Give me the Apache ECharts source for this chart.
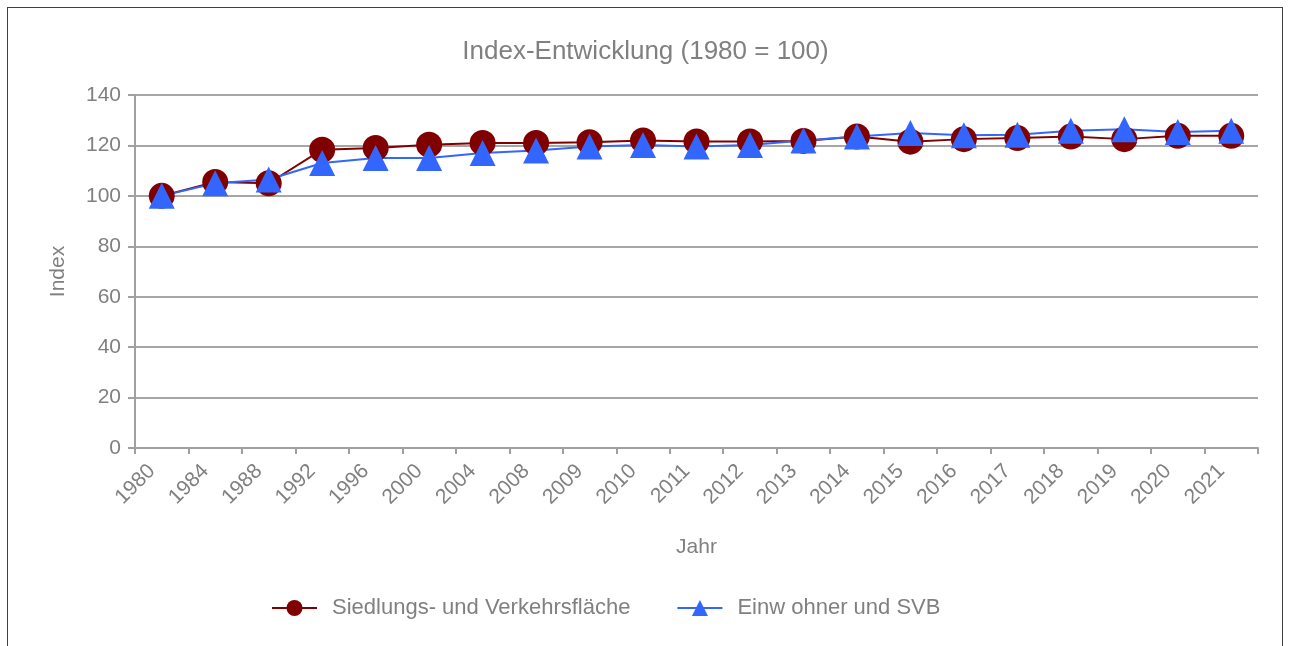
<!DOCTYPE html>
<html>
<head>
<meta charset="utf-8">
<title>Index-Entwicklung</title>
<script src="https://cdn.jsdelivr.net/npm/echarts@6/dist/echarts.min.js"></script>
<style>
  html, body { margin: 0; padding: 0; background: #fff; }
  #frame {
    position: absolute; left: 7px; top: 7px;
    width: 1276px; height: 660px;
    border: 1px solid #404040; box-sizing: border-box;
  }
  #chart { position: absolute; left: 0; top: 0; width: 1291px; height: 646px; }
</style>
</head>
<body>
<div id="frame"></div>
<div id="chart"></div>
<script>
// Jahre (Kategorien)
var years = ['1980', '1984', '1988', '1992', '1996', '2000', '2004', '2008', '2009', '2010', '2011',
  '2012', '2013', '2014', '2015', '2016', '2017', '2018', '2019', '2020', '2021'];
// Siedlungs- und Verkehrsfläche
var flaeche = [100, 105.5, 105, 118.3, 119, 120.3, 121, 121, 121.3, 122, 121.6,
  121.6, 121.8, 123.5, 121.5, 122.5, 122.9, 123.5, 122.5, 123.8, 123.8];
// Einwohner und SVB
var einwohner = [100, 105, 106.5, 113, 115, 115, 117, 118, 119.6, 120.2, 119.6,
  120.2, 122, 123.5, 124.9, 124, 124.2, 125.8, 126.4, 125.3, 125.8];
var yTicks = { min: 0, max: 140, interval: 20 };

var gray = '#808080';
var chart = echarts.init(document.getElementById('chart'));
chart.setOption({
  backgroundColor: 'transparent',
  textStyle: { fontFamily: 'Liberation Sans, Arial, sans-serif' },
  title: {
    text: 'Index-Entwicklung (1980 = 100)',
    left: 'center',
    top: 34,
    textStyle: { color: gray, fontSize: 26, fontWeight: 'normal' }
  },
  grid: { left: 135, right: 33, top: 95, bottom: 198 },
  legend: {
    bottom: 22,
    left: 266,
    itemWidth: 45,
    itemHeight: 20,
    itemGap: 46,
    textStyle: { color: gray, fontSize: 22, padding: [0, 0, 0, 10] },
    data: ['Siedlungs- und Verkehrsfläche', 'Einw ohner und SVB']
  },
  xAxis: {
    type: 'category',
    data: years,
    name: 'Jahr',
    nameLocation: 'middle',
    nameGap: 89,
    nameTextStyle: { color: gray, fontSize: 21 },
    axisLine: { lineStyle: { color: '#a0a0a0', width: 2 } },
    axisTick: { show: true, length: 6, lineStyle: { color: '#a0a0a0', width: 2 } },
    axisLabel: { color: gray, fontSize: 21, rotate: 45, margin: 10, padding: [0, 14, 0, 0] }
  },
  yAxis: {
    type: 'value',
    min: yTicks.min,
    max: yTicks.max,
    interval: yTicks.interval,
    name: 'Index',
    nameLocation: 'middle',
    nameGap: 66,
    nameTextStyle: { color: gray, fontSize: 21 },
    axisLine: { show: true, lineStyle: { color: '#a0a0a0', width: 2 } },
    axisTick: { show: true, length: 7, lineStyle: { color: '#a0a0a0', width: 2 } },
    axisLabel: { color: gray, fontSize: 21, margin: 14 },
    splitLine: { lineStyle: { color: '#a6a6a6', width: 2 } }
  },
  series: [
    {
      name: 'Siedlungs- und Verkehrsfläche',
      type: 'line',
      data: flaeche,
      symbol: 'circle',
      symbolSize: 26,
      color: '#800000',
      lineStyle: { color: '#800000', width: 2 },
      itemStyle: { color: '#800000' }
    },
    {
      name: 'Einw ohner und SVB',
      type: 'line',
      data: einwohner,
      symbol: 'triangle',
      symbolSize: 26,
      color: '#3366ff',
      lineStyle: { color: '#3366ff', width: 2 },
      itemStyle: { color: '#3366ff' }
    }
  ],
  animation: false
});
</script>
</body>
</html>
